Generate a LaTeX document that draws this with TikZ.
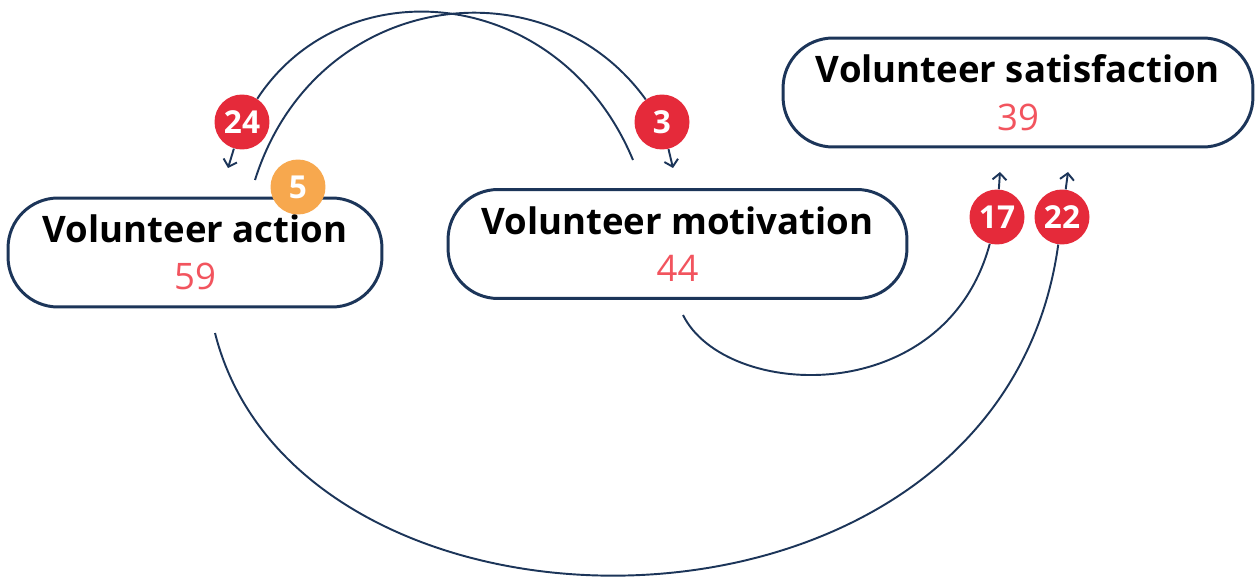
\documentclass[tikz,border=0pt]{standalone}
\usepackage{fontspec}
\setmainfont{Open Sans}
\usetikzlibrary{arrows.meta}
\definecolor{navy}{HTML}{1C3559}
\definecolor{badgered}{HTML}{E52A3A}
\definecolor{badgeorange}{HTML}{F7A84E}
\definecolor{countred}{HTML}{F2545E}

\begin{document}
\begin{tikzpicture}[x=0.02cm, y=-0.02cm,
    factor/.style={draw=navy, line width=1.7pt, rounded corners=1cm, fill=white, align=center,
      minimum height=2.18cm, inner sep=0pt, font=\fontsize{20.8}{27}\selectfont},
    badge/.style={circle, fill=badgered, text=white, minimum size=1.1cm, inner sep=0pt,
      font=\fontsize{18}{18}\selectfont\bfseries},
    link/.style={navy, line width=1.1pt},
    flow/.style={link, -{Straight Barb[length=1.3mm,width=2.8mm]}}]
    \useasboundingbox (0,0) rectangle (1255,581);

    % Factors
    \node[factor, minimum width=7.48cm] (action) at (195,252.5) {\textbf{Volunteer action}\\{\color{countred}59}};
    \node[factor, minimum width=9.18cm] (motivation) at (677.5,244) {\textbf{Volunteer motivation}\\{\color{countred}44}};
    \node[factor, minimum width=9.4cm] (satisfaction) at (1018,92.5) {\textbf{Volunteer satisfaction}\\{\color{countred}39}};

    % Free ends and arrow tips
    \coordinate (aTop) at (255,180);
    \coordinate (mTop) at (633,160);
    \coordinate (aBot) at (215,333);
    \coordinate (mBot) at (683,315);
    \coordinate (t24) at (228,168);
    \coordinate (t3) at (673,168);
    \coordinate (t17) at (1000,172);
    \coordinate (t22) at (1068,172);

    % Badges
    \node[badge] (b24) at (242,122) {24};
    \node[badge] (b3) at (662,122) {3};
    \node[badge, fill=badgeorange] (b5) at (298,187) {5};
    \node[badge] (b17) at (997,217) {17};
    \node[badge] (b22) at (1062,217) {22};

    % Links
    \draw[link] (aTop) .. controls (315,-10) and (545,-40) .. (b3);
    \draw[link] (mTop) .. controls (560,-15) and (345,-35) .. (b24);
    \draw[link] (aBot) .. controls (300,670) and (1000,670) .. (b22);
    \draw[link] (mBot) .. controls (725,400) and (945,410) .. (b17);

    \draw[flow] (b24) -- (t24);
    \draw[flow] (b3) -- (t3);
    \draw[flow] (b17) -- (t17);
    \draw[flow] (b22) -- (t22);
\end{tikzpicture}
\end{document}
